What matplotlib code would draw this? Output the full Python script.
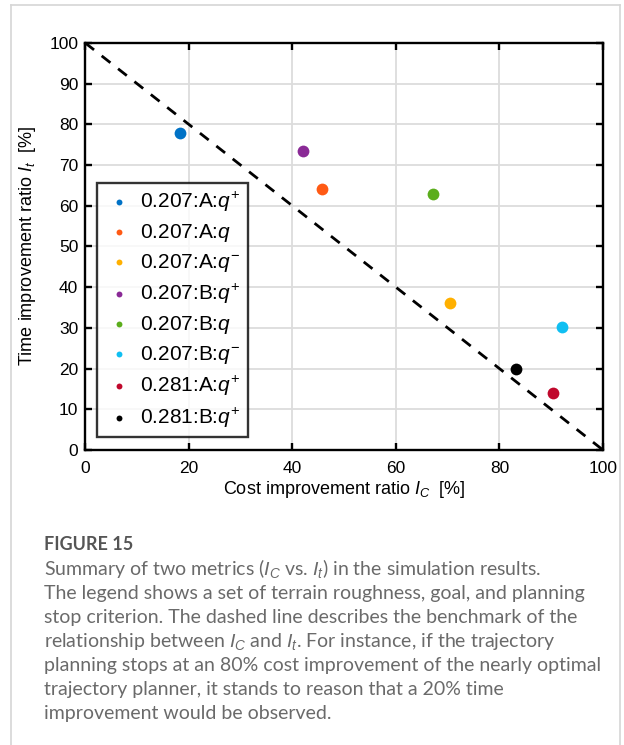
"""
Recreate FIGURE 15 -- cost vs. time improvement ratio scatter
"""

import matplotlib
matplotlib.use("Agg")
import matplotlib.pyplot as plt
from matplotlib.lines import Line2D

plt.rcParams["font.family"] = ["Liberation Sans", "DejaVu Sans"]
plt.rcParams["mathtext.fontset"] = "custom"
plt.rcParams["mathtext.rm"] = "Liberation Sans"
plt.rcParams["mathtext.it"] = "Liberation Sans:italic"

# ── Data ──────────────────────────────────────────────────────────────────────
labels = [r"0.207:A:$q^{+}$", r"0.207:A:$q$", r"0.207:A:$q^{-}$",
          r"0.207:B:$q^{+}$", r"0.207:B:$q$", r"0.207:B:$q^{-}$",
          r"0.281:A:$q^{+}$", r"0.281:B:$q^{+}$"]
cost_ratio = [18.2, 45.7, 70.4, 42.0, 67.1, 92.0, 90.4, 83.2]
time_ratio = [78.0, 64.1, 36.2, 73.4, 62.9, 30.1, 14.1, 19.9]
colors = ["#0072c6", "#ff5a14", "#ffb000", "#8a2a96",
          "#5bad1c", "#10bff2", "#c0082c", "#000000"]
bench_x = [0, 100]
bench_y = [100, 0]
ticks = [0, 20, 40, 60, 80, 100]
yticks = [0, 10, 20, 30, 40, 50, 60, 70, 80, 90, 100]

# ── Canvas ────────────────────────────────────────────────────────────────────
fig = plt.figure(figsize=(6.24, 7.45), dpi=100, facecolor="white")
ax = fig.add_axes([0.1367, 0.396, 0.8296, 0.5463])

C_FRAME = "#d6d6d6"
fig.add_artist(Line2D([0.017, 0.017], [0, 0.993], transform=fig.transFigure,
                      color=C_FRAME, lw=1.2))
fig.add_artist(Line2D([0.993, 0.993], [0, 0.993], transform=fig.transFigure,
                      color=C_FRAME, lw=1.2))
fig.add_artist(Line2D([0.017, 0.993], [0.993, 0.993], transform=fig.transFigure,
                      color=C_FRAME, lw=1.2))

# ── Plot ──────────────────────────────────────────────────────────────────────
ax.plot(bench_x, bench_y, color="black", lw=2.0, ls=(0, (4, 3.5)), zorder=2)
for xv, yv, c, lab in zip(cost_ratio, time_ratio, colors, labels):
    ax.scatter(xv, yv, s=72, color=c, label=lab, zorder=3, linewidths=0)

ax.set_xlim(0, 100)
ax.set_ylim(0, 100)
ax.set_xticks(ticks)
ax.set_yticks(yticks)
ax.grid(True, color="#dcdcdc", lw=1.3)
ax.set_axisbelow(True)
for sp in ax.spines.values():
    sp.set_linewidth(1.7)
ax.tick_params(direction="in", length=5, width=1.7, top=True, right=True,
               labelsize=12.5)
ax.tick_params(axis="x", pad=8)
ax.tick_params(axis="y", pad=5)

ax.set_xlabel(r"Cost improvement ratio $I_{C}$  [%]", fontsize=13, labelpad=2)
ax.set_ylabel(r"Time improvement ratio $I_{t}$  [%]", fontsize=13, labelpad=8)

leg = ax.legend(loc="lower left", bbox_to_anchor=(0.022, 0.032),
                borderaxespad=0, fontsize=15, markerscale=0.5,
                frameon=True, fancybox=False, edgecolor="black",
                handletextpad=0.3, labelspacing=0.38, borderpad=0.35,
                handlelength=1.45)
leg.get_frame().set_linewidth(1.7)

# ── Caption ───────────────────────────────────────────────────────────────────
CAP = ["Lato", "DejaVu Sans"]
fig.text(0.071, 1 - 544 / 745, "FIGURE 15", family=CAP, fontsize=13,
         fontweight="bold", color="#555555", va="center", ha="left")
caption = [
    r"Summary of two metrics ($I_C$ vs. $I_t$) in the simulation results.",
    "The legend shows a set of terrain roughness, goal, and planning",
    "stop criterion. The dashed line describes the benchmark of the",
    r"relationship between $I_C$ and $I_t$. For instance, if the trajectory",
    "planning stops at an 80% cost improvement of the nearly optimal",
    "trajectory planner, it stands to reason that a 20% time",
    "improvement would be observed.",
]
for i, line in enumerate(caption):
    fig.text(0.071, 1 - (569 + 24 * i) / 745, line, family=CAP, fontsize=14,
             color="#6a6a6a", va="center", ha="left")

fig.savefig("out.png", dpi=100, facecolor="white")
